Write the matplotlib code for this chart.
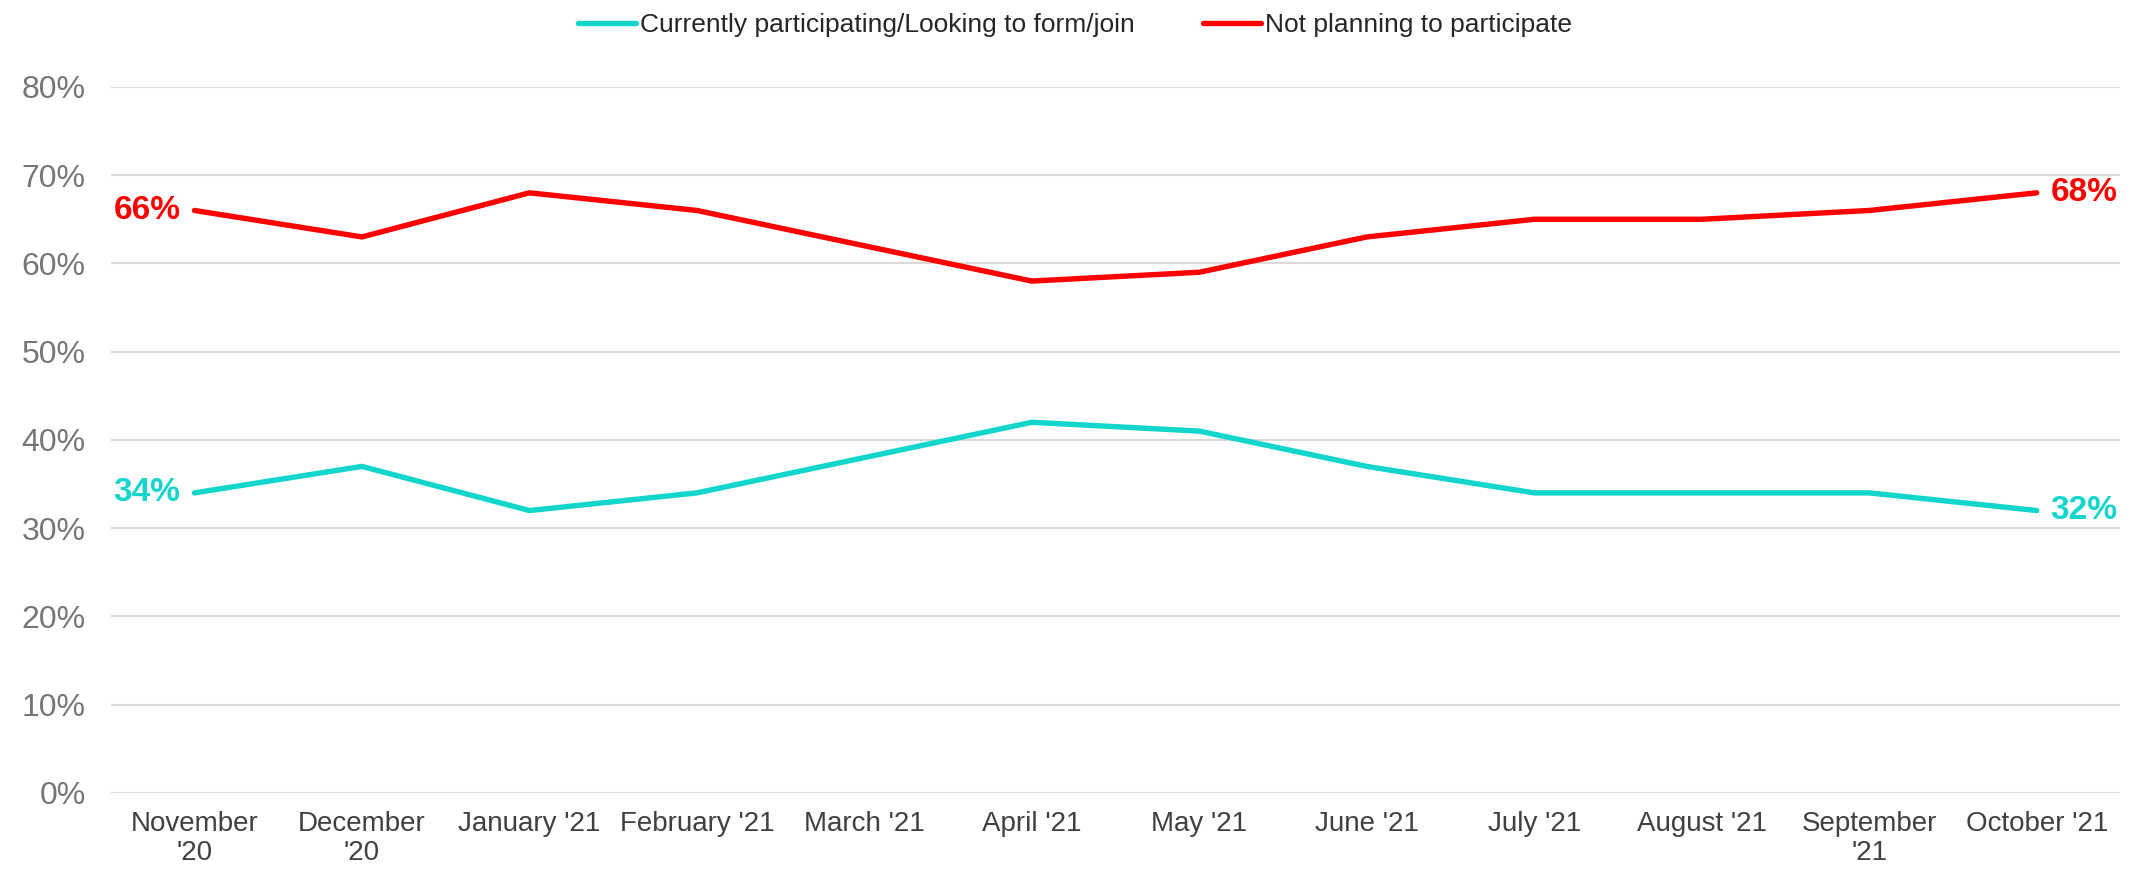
import matplotlib.pyplot as plt
from matplotlib.ticker import FuncFormatter

plt.rcParams['font.family'] = ['Liberation Sans', 'DejaVu Sans']

months = ["November\n'20", "December\n'20", "January '21", "February '21", "March '21",
          "April '21", "May '21", "June '21", "July '21", "August '21",
          "September\n'21", "October '21"]
participating = [34, 37, 32, 34, 38, 42, 41, 37, 34, 34, 34, 32]
not_planning = [66, 63, 68, 66, 62, 58, 59, 63, 65, 65, 66, 68]

teal = '#12d6cc'
red = '#ff0000'

fig = plt.figure(figsize=(21.29, 8.69), dpi=100)
ax = fig.add_axes([0.052, 0.0875, 0.944, 0.8125])

x = list(range(len(months)))
ax.plot(x, participating, color=teal, lw=3.9, solid_capstyle='round',
        label='Currently participating/Looking to form/join')
ax.plot(x, not_planning, color=red, lw=3.9, solid_capstyle='round',
        label='Not planning to participate')

# end labels
for series, col in [(participating, teal), (not_planning, red)]:
    ax.annotate(f'{series[0]}%', (x[0], series[0]), xytext=(-10, 0),
                textcoords='offset points', ha='right', va='center',
                fontsize=24, fontweight='bold', color=col)
    ax.annotate(f'{series[-1]}%', (x[-1], series[-1]), xytext=(10, 0),
                textcoords='offset points', ha='left', va='center',
                fontsize=24, fontweight='bold', color=col)

ax.set_xlim(-0.5, len(months) - 0.5)
ax.set_ylim(0, 80)
ax.set_yticks(range(0, 81, 10))
ax.yaxis.set_major_formatter(FuncFormatter(lambda v, p: f'{int(v)}%'))
ax.set_xticks(x)
ax.set_xticklabels(months, fontsize=20, color='#404040', linespacing=1.15)
ax.tick_params(axis='y', labelsize=23, colors='#767676', length=0, pad=18)
ax.tick_params(axis='x', length=0, pad=13)
ax.grid(axis='y', color='#d9d9d9', lw=1.5)
ax.set_axisbelow(True)
for s in ax.spines.values():
    s.set_visible(False)

fig.legend(loc='upper center', bbox_to_anchor=(0.505, 1.012), ncol=2, frameon=False,
           fontsize=19, handlelength=2.2, handletextpad=0.15, columnspacing=2.6,
           labelcolor='#262626')

fig.savefig('out.png', dpi=100)
